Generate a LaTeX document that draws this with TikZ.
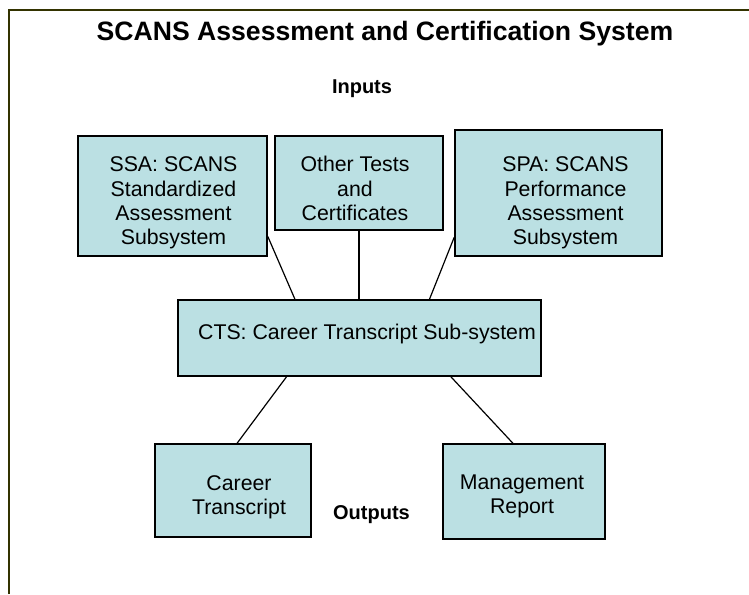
\documentclass[tikz,border=0pt]{standalone}
\usepackage{fontspec}
\setmainfont{Liberation Sans}
\usepackage{tikz}
\definecolor{boxfill}{HTML}{BBE0E3}
\definecolor{framecol}{HTML}{333300}

\begin{document}
\begin{tikzpicture}[x=1pt,y=-1pt,
    sysbox/.style={draw,line width=1.6pt,fill=boxfill,inner sep=0pt},
    boxtext/.style={inner sep=0pt,align=center,font=\fontsize{21.3}{24.4}\selectfont},
    heading/.style={anchor=base,font=\fontsize{20}{23}\selectfont\bfseries},
    link/.style={line width=1.2pt}]
            \useasboundingbox (0,0) rectangle (749,594);
            \draw[framecol,line width=2pt] (9,594) -- (9,10) -- (749,10);
            \node[anchor=base,font=\fontsize{26.6}{30}\selectfont\bfseries] (title) at (385,41) {SCANS Assessment and Certification System};
            \node[heading] (inputs) at (362,93) {Inputs};
            \node[heading] (outputs) at (371.5,519) {Outputs};
            % inputs
            \node[sysbox,minimum width=189pt,minimum height=120pt,
              label={[boxtext,xshift=1pt,yshift=-7pt]center:SSA: SCANS\\Standardized\\Assessment\\Subsystem}] (ssa) at (172.5,196) {};
            \node[sysbox,minimum width=168pt,minimum height=94pt,
              label={[boxtext,xshift=-4pt,yshift=-5.5pt]center:Other Tests\\and\\Certificates}] (other) at (359,183) {};
            \node[sysbox,minimum width=207pt,minimum height=126pt,
              label={[boxtext,xshift=7pt,yshift=-10pt]center:SPA: SCANS\\Performance\\Assessment\\Subsystem}] (spa) at (558.5,193) {};
            % transcript
            \node[sysbox,minimum width=363pt,minimum height=76pt,
              label={[boxtext,xshift=7.5pt,yshift=4pt]center:CTS: Career Transcript Sub-system}] (cts) at (359.5,338) {};
            % outputs
            \node[sysbox,minimum width=156pt,minimum height=93pt,
              label={[boxtext,xshift=6pt,yshift=-7pt]center:Career\\Transcript}] (career) at (233,490.5) {};
            \node[sysbox,minimum width=162pt,minimum height=95pt,
              label={[boxtext,xshift=-2pt,yshift=-5pt]center:Management\\Report}] (mgmt) at (524,491.5) {};
            \draw[link] (ssa.-23) -- (cts.149);
            \draw[link] (other.south) -- (other.south |- cts.north);
            \draw[link] (spa.203) -- (cts.29);
            \draw[link] (cts.208) -- (career.85);
            \draw[link] (cts.-23) -- (mgmt.103);
        \end{tikzpicture}
\end{document}
